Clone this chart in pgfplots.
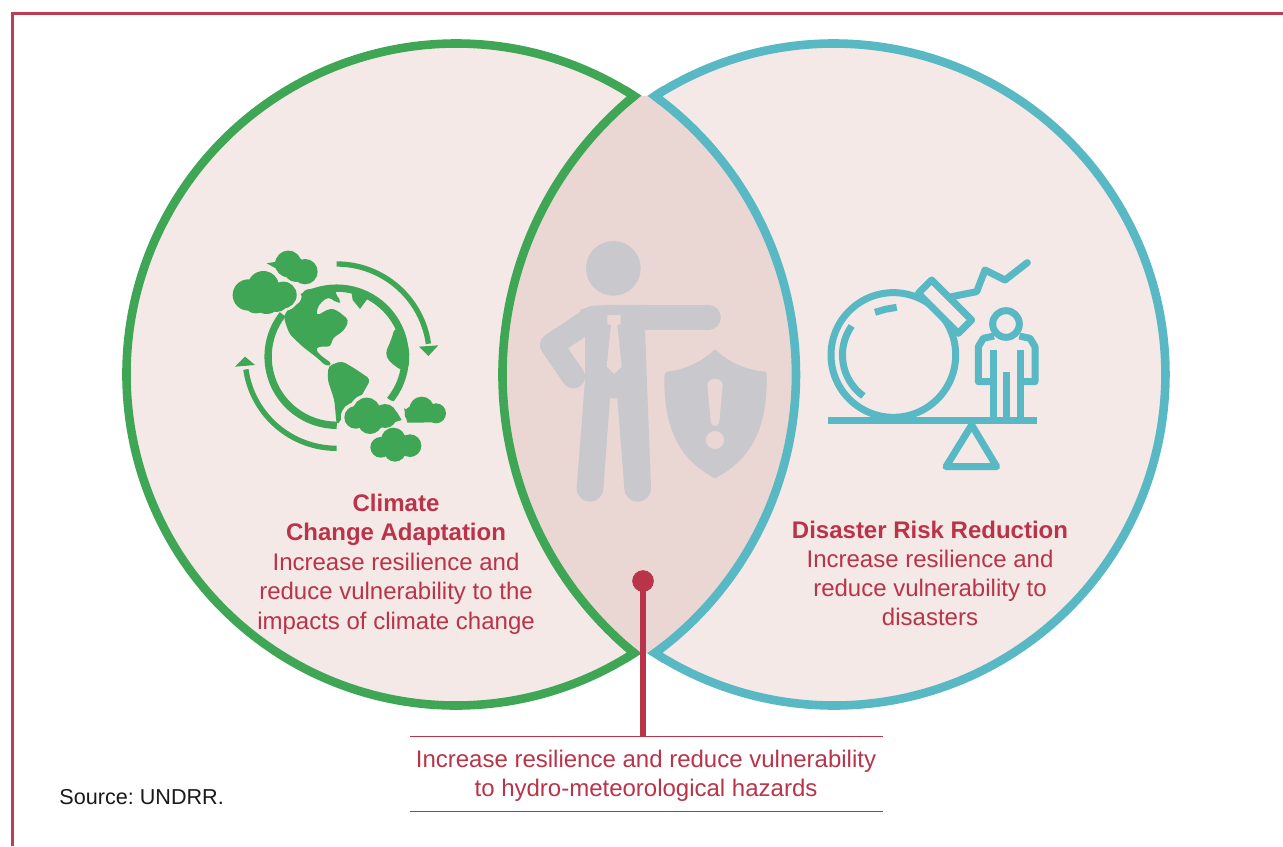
\documentclass[border=0pt]{standalone}
\usepackage{fontspec}
\setmainfont{Liberation Sans}
\usepackage{pgfplots}
\pgfplotsset{compat=1.18}
\definecolor{gr}{HTML}{3FA655}
\definecolor{te}{HTML}{58B8C4}
\definecolor{rd}{HTML}{B93349}
\definecolor{fr}{HTML}{BE3D50}
\definecolor{bgA}{HTML}{F4E9E6}
\definecolor{bgB}{HTML}{EAD7D3}
\definecolor{gy}{HTML}{C8C8CD}
\frenchspacing
\newcommand{\tx}[3]{\node[font=\fontsize{#1}{13}\selectfont,text=rd,inner sep=0pt,anchor=base] at (axis cs:#2) {#3};}
\begin{document}
\begin{tikzpicture}
\useasboundingbox (0,0) rectangle (641.5pt,423pt);
\begin{axis}[at={(0,0)},anchor=south west,scale only axis,width=641.5pt,height=423pt,
  xmin=0,xmax=1283,ymin=0,ymax=846,y dir=reverse,hide axis,clip=true]
% frame
\addplot[fr,line width=1.5pt,forget plot] coordinates {(12.5,846)(12.5,13.5)(1283,13.5)};
% fills
\fill[bgA] (axis cs:634,96) arc[start angle=57.3,end angle=302.7,x radius=164.75pt,y radius=165.5pt] arc[start angle=230.55,end angle=129.45,radius=180.35pt] -- cycle;
\fill[bgA] (axis cs:655,96) arc[start angle=122.7,end angle=-122.7,x radius=165.7pt,y radius=165.5pt] arc[start angle=-53.7,end angle=53.7,radius=172.75pt] -- cycle;
\fill[bgB] (axis cs:634,96) arc[start angle=129.45,end angle=230.55,radius=180.35pt] -- (axis cs:655,653) arc[start angle=-53.7,end angle=53.7,radius=172.75pt] -- cycle;
% outlines
\draw[te,line width=4.3pt] (axis cs:655,96) arc[start angle=122.7,end angle=-122.7,x radius=165.7pt,y radius=165.5pt] arc[start angle=-53.7,end angle=53.7,radius=172.75pt];
\draw[gr,line width=4.3pt] (axis cs:634,96) arc[start angle=57.3,end angle=302.7,x radius=164.75pt,y radius=165.5pt] arc[start angle=230.55,end angle=129.45,radius=180.35pt];
% pointed tips
\fill[gr] (axis cs:627,86.4)--(axis cs:641.5,95.6)--(axis cs:627,107.2)--cycle;
\fill[gr] (axis cs:627,662.6)--(axis cs:641.5,653.4)--(axis cs:627,641.8)--cycle;
\fill[te] (axis cs:662.6,86)--(axis cs:647.4,95.8)--(axis cs:662.6,106.9)--cycle;
\fill[te] (axis cs:662.6,663)--(axis cs:647.4,653.2)--(axis cs:662.6,642.1)--cycle;
% callout
\addplot[rd,line width=2.6pt,forget plot] coordinates {(643,581)(643,736)};
\addplot[only marks,mark=*,mark size=5.2pt,mark options={fill=rd,draw=rd},forget plot] coordinates {(643,581)};
\addplot[rd,line width=0.5pt,forget plot] coordinates {(410,736)(883,736)};
\addplot[rd,line width=0.5pt,forget plot] coordinates {(410,811)(883,811)};
% text
\tx{12}{396,511}{\textbf{Climate}}
\tx{12}{396,540}{\textbf{Change Adaptation}}
\tx{12}{396,570}{Increase resilience and}
\tx{12}{396,599}{reduce vulnerability to the}
\tx{12}{396,629}{impacts of climate change}
\tx{12}{930,538}{\textbf{Disaster Risk Reduction}}
\tx{12}{930,567}{Increase resilience and}
\tx{12}{930,596}{reduce vulnerability to}
\tx{12}{930,625}{disasters}
\tx{12}{646,767}{Increase resilience and reduce vulnerability}
\tx{12}{646,796}{to hydro-meteorological hazards}
\node[font=\fontsize{10.8}{12}\selectfont,text=black!90,inner sep=0pt,anchor=base west] at (axis cs:59,804) {Source: UNDRR.};
\end{axis}
% ---------- globe icon (units: 1/3 px)
\begin{scope}[shift={(110pt,303pt)},x=0.16667pt,y=-0.16667pt]
\draw[gr,line width=3.67pt] (510,480) arc[start angle=39,end angle=-120,radius=206];
\draw[gr,line width=3.67pt] (188,223) arc[start angle=218,end angle=90,radius=206];
\draw[gr,line width=2.67pt] (350,72) arc[start angle=-90,end angle=-8,radius=278];
\draw[gr,line width=2.67pt] (350,625) arc[start angle=90,end angle=172,radius=275];
\fill[gr] (597,320)--(655,316)--(625,348)--cycle;
\fill[gr] (45,380)--(105,375)--(75,350)--cycle;
\fill[gr,rounded corners=2pt] (250,150)--(350,135)--(345,160)--(365,185)--(352,190)--(325,170)--(295,195)--(288,228)--(330,205)--(350,210)--(387,240)--(372,272)--(337,295)--(332,322)--(305,318)--(285,325)--(300,345)--(338,372)--(320,380)--(290,352)--(250,322)--(208,282)--(190,230)--(210,200)--(240,190)--cycle;
\fill[gr,rounded corners=2pt] (325,378)--(365,363)--(400,383)--(452,418)--(422,472)--(387,492)--(362,542)--(350,555)--(343,480)--(323,420)--cycle;
\fill[gr,rounded corners=2pt] (525,262)--(552,290)--(568,330)--(567,382)--(545,392)--(508,365)--(496,340)--(513,300)--cycle;
\fill[gr] (393,148)--(447,170)--(420,207)--(398,180)--cycle;
% halos
\fill[bgA] (130,140) circle[radius=58] (85,165) circle[radius=55] (190,165) circle[radius=48] (140,180) circle[radius=50];
\fill[bgA] (205,72) circle[radius=50] (255,95) circle[radius=50];
\fill[bgA] (440,515) circle[radius=52] (405,530) circle[radius=42] (500,530) circle[radius=50] (450,545) circle[radius=47];
% clouds
\fill[gr] (130,140) circle[radius=47] (85,165) circle[radius=47] (190,165) circle[radius=40] (140,178) circle[radius=44] (108,178) circle[radius=42] (170,180) circle[radius=36];
\fill[gr] (205,72) circle[radius=40] (255,95) circle[radius=38] (228,90) circle[radius=36] (140,70)--(200,60)--(292,108)--(240,125)--cycle;
\fill[gr] (440,515) circle[radius=42] (407,532) circle[radius=34] (495,528) circle[radius=36] (450,545) circle[radius=37] (470,535) circle[radius=32] (530,515)--(545,540)--(480,560)--cycle;
\fill[gr] (605,507) circle[radius=37] (648,520) circle[radius=30] (578,522) circle[radius=24] (552,505)--(660,547)--(562,548)--cycle;
\fill[gr] (520,600) circle[radius=37] (482,622) circle[radius=31] (570,617) circle[radius=34] (525,632) circle[radius=33] (525,615) circle[radius=38];
\end{scope}
% ---------- person icon
\begin{scope}[shift={(265pt,308pt)},x=0.16667pt,y=-0.16667pt]
\fill[gy] (250,115) circle[radius=82];
\draw[gy,line width=12.5pt,line cap=round] (240,262)--(535,262);
\draw[gy,line width=11.7pt,line cap=round,line join=round] (190,262)--(65,345)--(130,440);
\fill[gy] (150,240) .. controls (180,228) and (210,225) .. (240,225)--(345,225)--(345,300)--(363,775)--(283,775)--(262,505)--(240,505)--(220,775)--(140,775)--(165,450)--(165,290)--cycle;
\fill[gy] (180,775) circle[radius=40] (323,775) circle[radius=40];
\fill[bgB] (232,255)--(272,255)--(272,282)--(262,285)--(275,410)--(252,432)--(230,410)--(243,285)--(232,282)--cycle;
\fill[gy] (555,358) .. controls (600,400) and (650,420) .. (705,425) .. controls (712,427) and (710,440) .. (710,450) .. controls (710,600) and (660,690) .. (555,745) .. controls (450,690) and (403,600) .. (403,450) .. controls (403,435) and (403,427) .. (410,425) .. controls (460,420) and (510,400) .. cycle;
\fill[bgB] (532,465) .. controls (532,440) and (578,440) .. (578,465) -- (568,575) .. controls (566,592) and (544,592) .. (542,575) -- cycle;
\fill[bgB] (555,630) circle[radius=27];
\end{scope}
% ---------- bomb icon
\begin{scope}[shift={(410pt,298pt)},x=0.16667pt,y=-0.16667pt,te,line width=3.5pt,line join=round]
\draw (220,315) circle[radius=187];
\draw[line cap=butt] (130,438) arc[start angle=126,end angle=215,radius=152];
\draw (165,187)--(195,178)--(230,172);
\draw[fill=bgA] (295,130)--(335,90)--(455,210)--(415,250)--cycle;
\draw[line cap=round] (395,140)--(470,125)--(495,60)--(555,90)--(622,38);
\draw (558,222) circle[radius=40];
\draw (522,258)--(490,265)--(475,290)--(475,395)--(520,395);
\draw (598,258)--(630,265)--(645,290)--(645,395)--(600,395);
\draw (520,300)--(520,505);
\draw (600,300)--(600,505);
\draw (560,365)--(560,505);
\draw (25,512)--(652,512);
\draw (455,525)--(530,650)--(378,650)--cycle;
\end{scope}
\end{tikzpicture}
\end{document}
